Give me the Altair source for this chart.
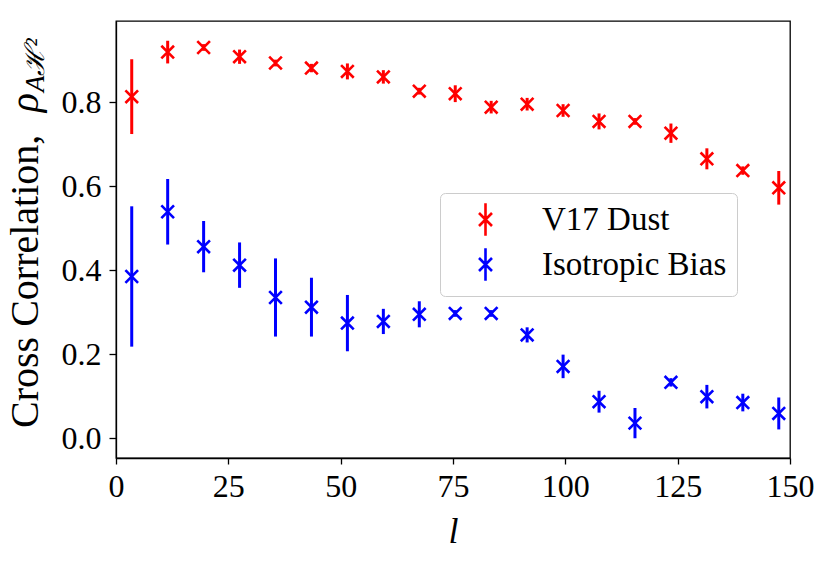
import altair as alt
import pandas as pd

ell = [3.5, 11.5, 19.5, 27.5, 35.5, 43.5, 51.5, 59.5, 67.5, 75.5,
       83.5, 91.5, 99.5, 107.5, 115.5, 123.5, 131.5, 139.5, 147.5]
dust_val = [0.813, 0.919, 0.930, 0.908, 0.893, 0.881, 0.873, 0.860, 0.826, 0.820,
            0.788, 0.795, 0.780, 0.754, 0.754, 0.726, 0.665, 0.637, 0.596]
dust_err = [0.089, 0.027, 0.008, 0.017, 0.008, 0.010, 0.019, 0.016, 0.008, 0.020,
            0.015, 0.015, 0.015, 0.019, 0.008, 0.023, 0.025, 0.010, 0.040]
iso_val = [0.385, 0.539, 0.456, 0.412, 0.335, 0.312, 0.274, 0.278, 0.295, 0.297,
           0.297, 0.246, 0.171, 0.087, 0.036, 0.133, 0.099, 0.085, 0.059]
iso_err = [0.167, 0.078, 0.061, 0.054, 0.093, 0.070, 0.067, 0.030, 0.031, 0.008,
           0.008, 0.018, 0.028, 0.026, 0.036, 0.010, 0.028, 0.021, 0.038]
series_names = ["V17 Dust", "Isotropic Bias"]
series_colors = ["#ff0000", "#0000ff"]
x_ticks = [0, 25, 50, 75, 100, 125, 150]
y_ticks = [0.0, 0.2, 0.4, 0.6, 0.8]
y_title_main = ["Cross Correlation,"]
y_title_rho = ["ρ"]
y_title_sub = ["Aℋ²"]
x_title = "l"

rows = []
for name, vals, errs in [(series_names[0], dust_val, dust_err), (series_names[1], iso_val, iso_err)]:
    for l, v, e in zip(ell, vals, errs):
        rows.append({"l": l, "rho": v, "lo": v - e, "hi": v + e, "series": name})
df = pd.DataFrame(rows)

FONT = "Liberation Serif"
X_MARK = "M-1,-1L1,1M-1,1L1,-1"
LEG_MARK = "M0,-1.25L0,1.25M-0.5,-0.5L0.5,0.5M-0.5,0.5L0.5,-0.5"

xscale = alt.Scale(domain=[0, 150], nice=False, zero=False)
yscale = alt.Scale(domain=[-0.047, 0.993], nice=False, zero=False)
color = alt.Color(
    "series:N",
    scale=alt.Scale(domain=series_names, range=series_colors),
    legend=alt.Legend(
        title=None, orient="none", legendX=324, legendY=172,
        symbolType=LEG_MARK, symbolSize=676, symbolStrokeWidth=2.6,
        symbolFillColor="transparent", symbolOffset=19,
        labelFont=FONT, labelFontSize=33, labelColor="black", labelLimit=400,
        labelOffset=40, rowPadding=2, padding=10,
        fillColor="white", strokeColor="#cccccc", cornerRadius=5,
    ),
)

base = alt.Chart(df)
xenc = alt.X("l:Q", scale=xscale,
             axis=alt.Axis(values=x_ticks, title=x_title, titleFontStyle="italic",
                           titleFontSize=36, titleFont=FONT, titleFontWeight="normal",
                           titlePadding=12, labelPadding=7, tickSize=6, labelFlush=False,
                           labelFont=FONT, labelFontSize=32, grid=False))
yenc = alt.Y("rho:Q", scale=yscale,
             axis=alt.Axis(values=y_ticks, format=".1f", title=None,
                           labelPadding=8, tickSize=7, labelFlush=False,
                           labelFont=FONT, labelFontSize=32, grid=False))

bars = base.mark_rule(strokeWidth=3).encode(
    x=xenc, y=alt.Y("lo:Q", scale=yscale), y2="hi:Q", color=color
)
points = base.mark_point(shape=X_MARK, filled=False, size=160, strokeWidth=2.6, opacity=1).encode(
    x=xenc, y=yenc, color=color
)

t1 = alt.Chart(pd.DataFrame({"t": y_title_main})).mark_text(
    font=FONT, fontSize=40, angle=270, align="left", baseline="alphabetic", color="black"
).encode(x=alt.value(-78), y=alt.value(407), text="t:N")
t2 = alt.Chart(pd.DataFrame({"t": y_title_rho})).mark_text(
    font=FONT, fontSize=40, fontStyle="italic", angle=270, align="right", baseline="alphabetic", color="black"
).encode(x=alt.value(-78), y=alt.value(72), text="t:N")
t3 = alt.Chart(pd.DataFrame({"t": y_title_sub})).mark_text(
    font=FONT, fontSize=27, fontStyle="italic", angle=270, align="left", baseline="alphabetic", color="black"
).encode(x=alt.value(-72), y=alt.value(71), text="t:N")

chart = alt.layer(bars, points, t1, t2, t3).properties(
    width=674, height=437,
    background="white",
    autosize=alt.AutoSizeParams(type="none"),
    padding={"left": 108, "top": 13, "right": 30, "bottom": 95},
).configure_view(
    stroke="black", strokeWidth=1.3
).configure_axis(
    labelColor="black",
    tickColor="black", domainColor="black", grid=False,
    tickWidth=1.3, domainWidth=1.3, titleColor="black",
)

chart.save("out.html", embed_options={"renderer": "svg", "actions": False})
